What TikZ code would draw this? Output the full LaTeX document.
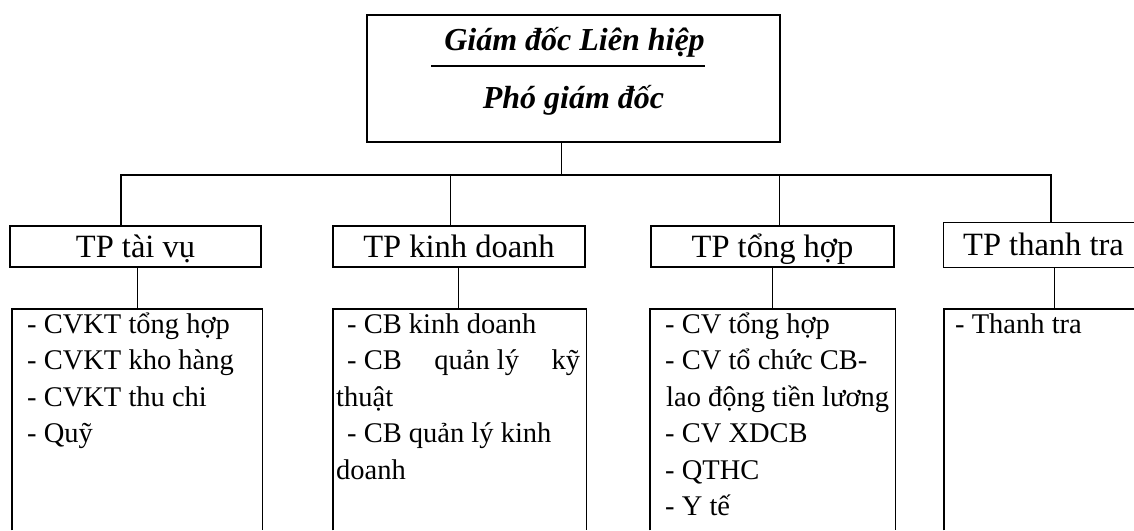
\documentclass[tikz,border=0pt]{standalone}
\usepackage{fontspec}
\setmainfont{Liberation Serif}
\tikzset{
  box/.style={draw,line width=1.3pt,inner sep=0pt},
  tpbox/.style={box,minimum height=41pt,font=\fontsize{32.5}{36}\selectfont,text height=21pt,text depth=0pt},
  lowbox/.style={inner sep=0pt,anchor=north west,minimum height=221pt},
  head/.style={anchor=base,inner sep=0pt,font=\fontsize{32}{36}\selectfont\bfseries\itshape},
  item/.style={anchor=base west,inner sep=0pt,font=\fontsize{28.5}{32}\selectfont},
  link/.style={line width=1pt},
  bus/.style={line width=2pt}
}
\begin{document}
\begin{tikzpicture}[x=1pt,y=-1pt]
\useasboundingbox (0,0) rectangle (1134,530);
\node[box,minimum width=413pt,minimum height=127pt] (gd) at (573.5,78.5) {};
\node[head] (gdlh) at (574.5,50) {Giám đốc Liên hiệp};
\node[head] (pgd) at (573.5,108) {Phó giám đốc};
\draw[line width=2.5pt] ([shift={(-13,16)}]gdlh.base west) -- ([shift={(0,16)}]gdlh.base east);

\node[tpbox,minimum width=251pt] (taivu) at (135.5,246.5) {TP tài vụ};
\node[tpbox,minimum width=252pt] (kinhdoanh) at (459,246.5) {TP kinh doanh};
\node[tpbox,minimum width=243pt] (tonghop) at (772.5,246.5) {TP tổng hợp};
\node[tpbox,draw=none,minimum width=199pt,minimum height=44pt] (thanhtra) at (1043.5,245) {TP thanh tra};
\coordinate (edgeR) at (1134,0);
\draw[box] (thanhtra.north -| edgeR) -- (thanhtra.north west) -- (thanhtra.south west) -- (thanhtra.south -| edgeR);

\coordinate (busL) at (121,175);
\coordinate (busM) at (561,175);
\coordinate (busR) at (1051,175);
\draw[bus] (taivu.north -| busL) -- (busL) -- (busR) -- (thanhtra.north -| busR);
\draw[link] (gd.south -| busM) -- (busM);
\foreach \n/\x in {kinhdoanh/450,tonghop/779} {
  \coordinate (\n-in) at (\x,175);
  \draw[link] (\n-in) -- (\n.north -| \n-in);
}

\node[lowbox,minimum width=250pt] (dstaivu) at (12,309) {};
\node[lowbox,minimum width=253pt] (dskinhdoanh) at (333,309) {};
\node[lowbox,minimum width=245pt] (dstonghop) at (650,309) {};
\node[lowbox,minimum width=190pt] (dsthanhtra) at (944,309) {};
\foreach \n in {taivu,kinhdoanh,tonghop}
  \draw[box] (ds\n.south west) -- (ds\n.north west) -- (ds\n.north east) -- (ds\n.south east);
\draw[box] (dsthanhtra.south west) -- (dsthanhtra.north west) -- (dsthanhtra.north east);
\foreach \n/\dx in {taivu/1.5,kinhdoanh/-1,tonghop/-0.5,thanhtra/10.5}
  \draw[link] ([xshift=\dx pt]\n.south) -- ([xshift=\dx pt]\n.south |- ds\n.north);

\foreach \t [count=\i from 0] in {- CVKT tổng hợp,- CVKT kho hàng,- CVKT thu chi,- Quỹ}
  \node[item] (tv\i) at ([shift={(15,24+36.5*\i)}]dstaivu.north west) {\t};
\foreach \dx/\t [count=\i from 0] in {14/- CB kinh doanh,14/{\hbox to 233pt{- CB\hfill quản lý\hfill kỹ}},3/thuật,14/- CB quản lý kinh,3/doanh}
  \node[item] (kd\i) at ([shift={(\dx,24+36.5*\i)}]dskinhdoanh.north west) {\t};
\foreach \dx/\t [count=\i from 0] in {15/- CV tổng hợp,15/- CV tổ chức CB-,16/lao động tiền lương,15/- CV XDCB,15/- QTHC,15/- Y tế}
  \node[item] (th\i) at ([shift={(\dx,24+36.5*\i)}]dstonghop.north west) {\t};
\node[item] (tt0) at ([shift={(11,24)}]dsthanhtra.north west) {- Thanh tra};
\end{tikzpicture}
\end{document}
